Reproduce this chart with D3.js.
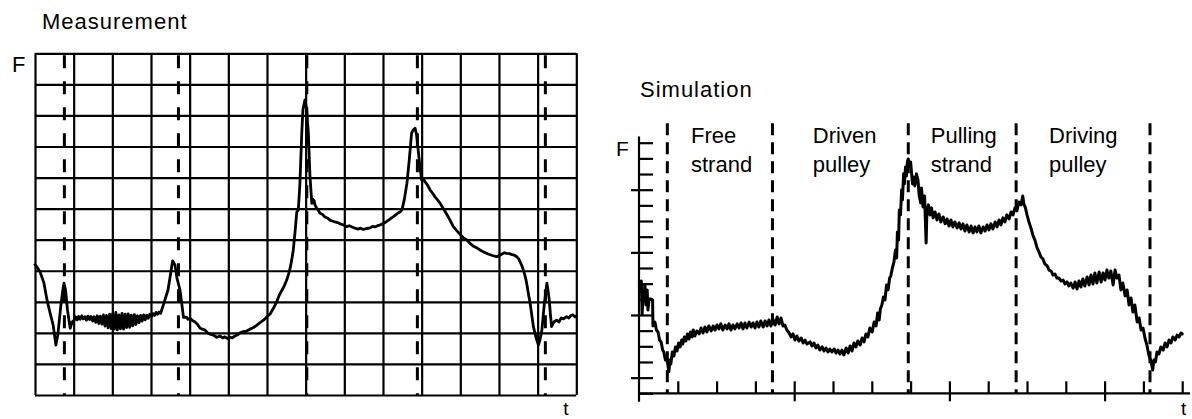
<!DOCTYPE html>
<html>
<head>
<meta charset="utf-8">
<script src="https://cdn.jsdelivr.net/npm/d3@7"></script>
<style>
  html, body { margin: 0; padding: 0; background: #fff; }
  svg { display: block; }
  text { font-family: "Liberation Sans", Arial, Helvetica, sans-serif; fill: #000; }
</style>
</head>
<body>
<svg id="chart" width="1192" height="419"></svg>
<script>
// ---------------- DATA ----------------
// Measurement panel: time in grid divisions (0..14), force in grid divisions (0..11)
const measGridT = d3.range(0, 15);
const measGridF = d3.range(0, 12);
const measSectionT = [0.76, 3.71, 7.03, 9.89, 13.20];
const measurement = [
  [0.00,4.19],[0.05,4.12],[0.13,3.97],[0.23,3.61],[0.31,3.06],[0.39,2.64],[0.47,2.25],[0.54,1.61],
  [0.59,1.93],[0.67,2.90],[0.72,3.38],[0.75,3.60],[0.79,3.38],[0.84,2.74],[0.91,2.15],[0.96,2.35],[1.01,2.41],
  [1.05,2.52],[1.09,2.42],[1.13,2.53],[1.17,2.44],[1.21,2.55],[1.25,2.45],[1.29,2.52],[1.33,2.41],
  [1.37,2.54],[1.41,2.43],[1.45,2.53],[1.49,2.38],[1.53,2.52],[1.57,2.34],[1.61,2.55],[1.65,2.30],
  [1.69,2.54],[1.73,2.28],[1.77,2.58],[1.81,2.22],[1.85,2.56],[1.89,2.16],[1.93,2.60],[1.97,2.14],
  [2.01,2.62],[2.05,2.12],[2.09,2.66],[2.13,2.10],[2.17,2.58],[2.21,2.13],[2.25,2.63],[2.29,2.12],
  [2.33,2.60],[2.37,2.17],[2.41,2.61],[2.45,2.18],[2.49,2.57],[2.53,2.23],[2.57,2.59],[2.61,2.27],
  [2.65,2.55],[2.69,2.33],[2.73,2.56],[2.77,2.38],[2.81,2.58],[2.85,2.42],[2.89,2.57],[2.93,2.47],
  [2.97,2.60],[3.01,2.52],[3.05,2.62],[3.09,2.56],[3.13,2.66],[3.17,2.60],[3.21,2.67],[3.25,2.63],
  [3.32,2.90],[3.36,3.06],[3.44,3.38],[3.49,3.77],[3.56,4.32],[3.62,4.19],[3.67,3.77],[3.75,3.38],
  [3.80,2.90],[3.84,2.50],[3.91,2.51],[3.96,2.44],[4.01,2.47],[4.07,2.40],[4.14,2.35],[4.20,2.28],
  [4.27,2.15],[4.33,2.12],[4.40,2.09],[4.47,1.99],[4.53,1.96],[4.61,1.93],[4.70,1.86],[4.79,1.90],
  [4.85,1.84],[4.91,1.87],[4.98,1.82],[5.04,1.86],[5.10,1.84],[5.17,1.90],[5.23,1.93],[5.30,2.00],
  [5.39,2.04],[5.47,2.06],[5.56,2.12],[5.65,2.17],[5.74,2.25],[5.82,2.33],[5.91,2.41],[6.00,2.52],
  [6.08,2.61],[6.17,2.80],[6.25,3.00],[6.32,3.22],[6.39,3.38],[6.45,3.52],[6.51,3.70],[6.56,3.90],
  [6.60,4.09],[6.64,4.35],[6.68,4.67],[6.73,5.31],[6.77,5.89],[6.81,5.96],[6.85,6.76],[6.90,8.44],
  [6.93,9.18],[6.98,9.50],[7.02,9.24],[7.07,8.44],[7.11,7.08],[7.16,6.17],[7.19,6.30],[7.22,6.25],
  [7.24,6.12],[7.28,6.02],[7.32,5.96],[7.37,5.85],[7.43,5.82],[7.50,5.73],[7.56,5.70],[7.63,5.63],
  [7.69,5.60],[7.76,5.57],[7.82,5.55],[7.89,5.51],[7.97,5.48],[8.06,5.42],[8.13,5.45],[8.20,5.41],
  [8.28,5.37],[8.35,5.34],[8.42,5.37],[8.49,5.33],[8.58,5.36],[8.67,5.38],[8.73,5.43],[8.79,5.41],
  [8.86,5.45],[8.92,5.47],[9.00,5.52],[9.08,5.57],[9.18,5.66],[9.27,5.74],[9.33,5.80],[9.39,5.86],
  [9.45,5.90],[9.49,5.96],[9.55,6.28],[9.62,6.82],[9.68,7.57],[9.74,8.43],[9.78,8.53],[9.83,8.59],
  [9.87,8.37],[9.91,7.89],[9.96,7.31],[10.00,6.92],[10.04,6.95],[10.09,6.86],[10.15,6.76],[10.22,6.60],
  [10.28,6.50],[10.35,6.37],[10.41,6.28],[10.48,6.17],[10.55,6.02],[10.63,5.86],[10.72,5.66],
  [10.82,5.42],[10.90,5.30],[10.99,5.18],[11.08,5.06],[11.17,4.99],[11.25,4.88],[11.33,4.80],
  [11.42,4.74],[11.51,4.67],[11.61,4.60],[11.72,4.54],[11.83,4.49],[11.94,4.45],[12.02,4.50],
  [12.08,4.54],[12.14,4.58],[12.20,4.56],[12.27,4.55],[12.34,4.52],[12.40,4.50],[12.46,4.45],
  [12.51,4.38],[12.55,4.28],[12.59,4.17],[12.63,4.02],[12.67,3.86],[12.70,3.70],[12.73,3.50],
  [12.76,3.27],[12.80,3.00],[12.83,2.74],[12.86,2.47],[12.89,2.20],[12.93,2.00],[12.96,1.84],
  [13.02,1.61],[13.06,1.77],[13.11,2.09],[13.14,2.50],[13.17,2.90],[13.21,3.30],[13.24,3.60],
  [13.27,3.35],[13.30,3.06],[13.33,2.60],[13.36,2.20],[13.42,2.35],[13.49,2.41],[13.55,2.35],
  [13.61,2.48],[13.67,2.45],[13.75,2.52],[13.81,2.48],[13.86,2.56],[13.91,2.58],[13.97,2.51],[14.00,2.54]
];

// Simulation panel: time in minor tick units (0..14), force in minor tick units (0..16)
const simTicksT = d3.range(1, 15);
const simMajorT = [4, 8, 12];
const simTicksF = d3.range(0, 17);
const simMajorF = [1, 5, 9, 13];
const simSectionT = [0.73, 3.44, 6.94, 9.72, 13.17];
const simSectionNames = [["Free", "strand"], ["Driven", "pulley"], ["Pulling", "strand"], ["Driving", "pulley"]];
const simLabelT = [1.34, 4.48, 7.52, 10.57];
const simulation = [
  [0.01,7.11],[0.04,6.47],[0.06,7.17],[0.08,5.06],[0.10,5.96],[0.13,6.02],[0.15,6.92],[0.18,5.64],
  [0.21,6.60],[0.23,5.32],[0.26,6.02],[0.31,6.02],[0.35,5.96],[0.36,4.30],[0.41,4.55],[0.45,4.04],
  [0.49,3.91],[0.53,3.40],[0.57,3.28],[0.61,2.76],[0.64,2.64],[0.68,2.13],[0.72,2.25],[0.77,1.38],
  [0.80,2.13],[0.82,1.87],[0.86,2.64],[0.90,2.38],[0.94,2.96],[0.98,2.70],[1.02,3.21],[1.06,2.96],
  [1.10,3.40],[1.13,3.15],[1.17,3.60],[1.21,3.34],[1.25,3.79],[1.29,3.47],[1.33,3.91],[1.37,3.60],
  [1.40,4.04],[1.44,3.66],[1.49,3.98],[1.55,3.79],[1.60,4.17],[1.65,3.85],[1.70,4.23],[1.75,3.91],
  [1.80,4.30],[1.86,3.98],[1.91,4.30],[1.96,4.04],[2.01,4.36],[2.06,4.11],[2.11,4.43],[2.16,4.04],
  [2.22,4.36],[2.27,4.11],[2.32,4.43],[2.37,4.04],[2.42,4.36],[2.47,4.11],[2.53,4.43],[2.58,4.17],
  [2.63,4.49],[2.68,4.11],[2.73,4.49],[2.78,4.17],[2.84,4.55],[2.89,4.23],[2.94,4.49],[2.99,4.17],
  [3.04,4.55],[3.09,4.23],[3.14,4.62],[3.20,4.23],[3.25,4.62],[3.30,4.30],[3.35,4.68],[3.40,4.30],
  [3.45,4.74],[3.51,4.36],[3.56,4.87],[3.61,4.43],[3.66,4.81],[3.71,4.30],[3.76,4.36],[3.81,4.04],
  [3.87,3.85],[3.92,3.60],[3.97,3.79],[4.02,3.40],[4.07,3.66],[4.12,3.34],[4.18,3.53],[4.23,3.21],
  [4.28,3.40],[4.33,3.15],[4.41,3.28],[4.46,3.02],[4.51,3.21],[4.56,2.89],[4.61,3.08],[4.66,2.76],
  [4.72,2.96],[4.77,2.70],[4.82,2.89],[4.87,2.64],[4.92,2.83],[4.97,2.64],[5.03,2.83],[5.08,2.57],
  [5.13,2.76],[5.18,2.51],[5.23,2.76],[5.28,2.45],[5.34,2.89],[5.39,2.57],[5.44,3.02],[5.49,2.70],
  [5.54,3.21],[5.59,2.96],[5.64,3.34],[5.70,3.08],[5.75,3.53],[5.80,3.28],[5.85,3.79],[5.90,3.60],
  [5.95,4.17],[6.01,3.91],[6.06,4.55],[6.11,4.30],[6.15,5.13],[6.19,4.68],[6.22,5.38],[6.26,5.64],
  [6.30,6.15],[6.34,5.96],[6.38,6.92],[6.42,6.60],[6.46,7.36],[6.49,7.49],[6.53,8.00],[6.57,8.38],
  [6.61,9.15],[6.64,8.64],[6.66,10.30],[6.69,9.79],[6.71,11.71],[6.74,11.39],[6.77,13.00],[6.79,12.35],
  [6.82,14.01],[6.84,13.37],[6.87,14.45],[6.89,13.87],[6.92,14.84],[6.94,14.96],[6.97,14.45],[7.00,14.77],
  [7.02,14.20],[7.05,13.37],[7.07,13.81],[7.11,13.24],[7.15,14.01],[7.19,13.62],[7.22,12.67],[7.26,12.16],
  [7.28,13.11],[7.32,11.90],[7.36,12.60],[7.40,9.60],[7.42,11.58],[7.46,12.03],[7.50,11.39],[7.54,11.84],
  [7.58,11.20],[7.63,11.58],[7.68,11.07],[7.73,11.45],[7.78,10.94],[7.84,11.26],[7.89,10.82],[7.94,11.13],
  [7.99,10.68],[8.04,11.07],[8.09,10.62],[8.14,10.94],[8.20,10.56],[8.25,10.88],[8.30,10.49],[8.35,10.82],
  [8.40,10.36],[8.45,10.75],[8.51,10.30],[8.56,10.68],[8.61,10.24],[8.66,10.62],[8.71,10.30],[8.76,10.68],
  [8.81,10.24],[8.87,10.62],[8.92,10.36],[8.97,10.75],[9.02,10.43],[9.07,10.82],[9.12,10.49],[9.18,10.94],
  [9.23,10.62],[9.28,11.07],[9.33,10.75],[9.38,11.20],[9.43,10.94],[9.48,11.39],[9.54,11.13],[9.59,11.58],
  [9.64,11.39],[9.69,11.84],[9.74,11.65],[9.79,12.22],[9.85,12.03],[9.89,12.60],[9.92,12.09],[9.96,11.84],
  [10.00,11.39],[10.05,10.94],[10.10,10.56],[10.15,10.11],[10.21,9.73],[10.26,9.28],[10.31,9.02],[10.36,8.70],
  [10.41,8.58],[10.46,8.26],[10.52,8.13],[10.57,7.87],[10.62,7.81],[10.67,7.55],[10.72,7.62],[10.77,7.36],
  [10.82,7.36],[10.88,7.17],[10.93,7.23],[10.98,6.98],[11.03,7.11],[11.08,6.85],[11.13,7.04],[11.19,6.72],
  [11.24,7.11],[11.29,6.66],[11.34,7.17],[11.39,6.79],[11.44,7.30],[11.49,6.85],[11.55,7.43],[11.60,6.92],
  [11.65,7.55],[11.70,6.98],[11.75,7.68],[11.80,7.04],[11.86,7.75],[11.91,7.11],[11.96,7.68],[12.01,7.23],
  [12.06,7.87],[12.11,7.36],[12.16,7.81],[12.22,6.92],[12.27,7.87],[12.32,7.36],[12.37,7.55],[12.42,6.60],
  [12.47,7.04],[12.53,6.22],[12.58,6.60],[12.63,5.64],[12.68,6.09],[12.73,5.19],[12.78,5.64],[12.84,4.55],
  [12.89,4.81],[12.94,4.04],[12.99,4.17],[13.04,3.53],[13.09,3.08],[13.14,2.45],[13.20,2.00],[13.24,1.49],
  [13.27,2.13],[13.31,2.00],[13.35,2.64],[13.40,2.51],[13.45,2.96],[13.51,2.76],[13.56,3.21],[13.61,2.96],
  [13.66,3.40],[13.71,3.21],[13.76,3.60],[13.82,3.40],[13.87,3.72],[13.92,3.60],[13.97,3.85],[14.00,3.79]
];

// ---------------- DRAW ----------------
const svg = d3.select("#chart");
svg.append("rect").attr("width", 1192).attr("height", 419).attr("fill", "#fff");

const FONT = 22;

// ===== Left panel: Measurement =====
const xL = d3.scaleLinear().domain([0, 14]).range([35, 576.3]);
const yL = d3.scaleLinear().domain([0, 11]).range([395, 53.3]);
const gL = svg.append("g");

gL.append("g")
  .attr("transform", `translate(0,${yL(0)})`)
  .call(d3.axisBottom(xL).tickValues(measGridT).tickSize(-(yL(0) - yL(11))).tickFormat("").tickSizeOuter(0))
  .call(g => g.select(".domain").remove())
  .call(g => g.selectAll(".tick line").attr("stroke", "#000").attr("stroke-width", 2.2));
gL.append("g")
  .attr("transform", `translate(${xL(0)},0)`)
  .call(d3.axisLeft(yL).tickValues(measGridF).tickSize(-(xL(14) - xL(0))).tickFormat("").tickSizeOuter(0))
  .call(g => g.select(".domain").remove())
  .call(g => g.selectAll(".tick line").attr("stroke", "#000").attr("stroke-width", 2.2));

gL.selectAll("line.sec").data(measSectionT).join("line")
  .attr("class", "sec")
  .attr("x1", d => xL(d)).attr("x2", d => xL(d))
  .attr("y1", yL(11) + 2).attr("y2", yL(0))
  .attr("stroke", "#000").attr("stroke-width", 3)
  .attr("stroke-dasharray", "13,13");

gL.append("path")
  .datum(measurement)
  .attr("fill", "none").attr("stroke", "#000").attr("stroke-width", 2.8)
  .attr("stroke-linejoin", "round").attr("stroke-linecap", "round")
  .attr("d", d3.line().x(d => xL(d[0])).y(d => yL(d[1])));

svg.append("text").attr("x", 42).attr("y", 29).attr("font-size", FONT).attr("letter-spacing", 1)
  .text("Measurement");
svg.append("text").attr("x", 12).attr("y", 72).attr("font-size", FONT).text("F");
svg.append("text").attr("x", xL(14) - 13).attr("y", 415).attr("font-size", 19).text("t");

// ===== Right panel: Simulation =====
const xR = d3.scaleLinear().domain([0, 14]).range([639, 1182.2]);
const yR = d3.scaleLinear().domain([0, 16]).range([393.3, 142.7]);
const gR = svg.append("g");

gR.append("line")
  .attr("x1", xR(0)).attr("x2", xR(0))
  .attr("y1", yR(16.39)).attr("y2", yR(-0.54))
  .attr("stroke", "#000").attr("stroke-width", 2.2);
gR.append("line")
  .attr("x1", xR(0)).attr("x2", xR(14.2))
  .attr("y1", yR(0)).attr("y2", yR(0))
  .attr("stroke", "#000").attr("stroke-width", 2.2);

function styleTicks(g) {
  g.select(".domain").remove();
  g.selectAll(".tick line").attr("stroke", "#000").attr("stroke-width", 2.2);
}
gR.append("g").attr("transform", `translate(${xR(0)},0)`)
  .call(d3.axisRight(yR).tickValues(simTicksF).tickSize(14).tickFormat(""))
  .call(styleTicks);
gR.append("g").attr("transform", `translate(${xR(0)},0)`)
  .call(d3.axisLeft(yR).tickValues(simMajorF).tickSize(8).tickFormat(""))
  .call(styleTicks);
gR.append("g").attr("transform", `translate(0,${yR(0)})`)
  .call(d3.axisTop(xR).tickValues(simTicksT).tickSize(12).tickFormat(""))
  .call(styleTicks);
gR.append("g").attr("transform", `translate(0,${yR(0)})`)
  .call(d3.axisBottom(xR).tickValues(simMajorT).tickSize(8).tickFormat(""))
  .call(styleTicks);

gR.selectAll("line.sec").data(simSectionT).join("line")
  .attr("class", "sec")
  .attr("x1", d => xR(d)).attr("x2", d => xR(d))
  .attr("y1", yR(17.24)).attr("y2", yR(0))
  .attr("stroke", "#000").attr("stroke-width", 3)
  .attr("stroke-dasharray", "12,7");

gR.append("path")
  .datum(simulation)
  .attr("fill", "none").attr("stroke", "#000").attr("stroke-width", 3)
  .attr("stroke-linejoin", "round").attr("stroke-linecap", "round")
  .attr("d", d3.line().x(d => xR(d[0])).y(d => yR(d[1])));

simSectionNames.forEach((lines, i) => {
  const t = svg.append("text").attr("font-size", FONT);
  lines.forEach((s, j) => {
    t.append("tspan").attr("x", xR(simLabelT[i])).attr("y", 143 + j * 28.5).text(s);
  });
});

svg.append("text").attr("x", 640).attr("y", 97).attr("font-size", FONT).attr("letter-spacing", 1)
  .text("Simulation");
svg.append("text").attr("x", 616).attr("y", 156).attr("font-size", 21).text("F");
svg.append("text").attr("x", 1181).attr("y", 415).attr("font-size", 19).text("t");
</script>
</body>
</html>
